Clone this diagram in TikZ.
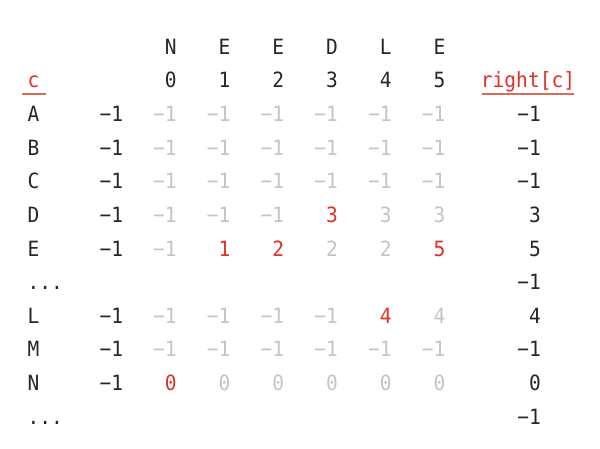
\documentclass[tikz,border=0pt]{standalone}
\usepackage{fontspec}
\setmonofont{DejaVu Sans Mono}[FakeStretch=0.93]

\definecolor{ink}{HTML}{262626}
\definecolor{fade}{HTML}{C4C4C4}
\definecolor{hit}{HTML}{E0302A}
\definecolor{rulered}{HTML}{E06A5A}

\tikzset{
  cell/.style={inner sep=0pt,font=\ttfamily\fontsize{21}{22}\selectfont,text=ink},
  num/.style={cell,anchor=base east},
  key/.style={cell,anchor=base west},
  headrule/.style={draw=rulered,line width=2pt}
}

\begin{document}
\begin{tikzpicture}[x=1pt,y=-1pt]
			\useasboundingbox (0,0) rectangle (600,449);
			% pattern and indices
			\foreach \ch [count=\j from 0] in {N,E,E,D,L,E} {
				\node[num] (p\j) at ({176.8+53.75*\j},54.5) {\ch};
				\node[num] (i\j) at ({176.8+53.75*\j},88) {\j};
			}
			\node[key,text=hit] (hc) at (27.5,88) {c};
			\node[cell,anchor=base,text=hit] (hr) at (528,88) {right[c]};
			\draw[headrule] (22,94.5) -- (46,94.5);
			\draw[headrule] (482,94.5) -- (574,94.5);
			% table rows
			\foreach \ch/\yi/\row/\res in {
				A/2/{fade/−1,fade/−1,fade/−1,fade/−1,fade/−1,fade/−1}/−1,
				B/3/{fade/−1,fade/−1,fade/−1,fade/−1,fade/−1,fade/−1}/−1,
				C/4/{fade/−1,fade/−1,fade/−1,fade/−1,fade/−1,fade/−1}/−1,
				D/5/{fade/−1,fade/−1,fade/−1,hit/3,fade/3,fade/3}/3,
				E/6/{fade/−1,hit/1,hit/2,fade/2,fade/2,hit/5}/5,
				L/8/{fade/−1,fade/−1,fade/−1,fade/−1,hit/4,fade/4}/4,
				M/9/{fade/−1,fade/−1,fade/−1,fade/−1,fade/−1,fade/−1}/−1,
				N/10/{hit/0,fade/0,fade/0,fade/0,fade/0,fade/0}/0} {
				\node[key] (k\ch) at (27.5,{54.5+33.6*\yi}) {\ch};
				\node[num] (s\ch) at (123.3,{54.5+33.6*\yi}) {−1};
				\foreach \col/\v [count=\j from 0] in \row
					\node[num,text=\col] (v\ch\j) at ({176.8+53.75*\j},{54.5+33.6*\yi}) {\v};
				\node[num] (r\ch) at (541,{54.5+33.6*\yi}) {\res};
			}
			% skipped rows
			\foreach \yi [count=\n] in {7,11} {
				\node[key] (dots\n) at (27.5,{54.5+33.6*\yi}) {...};
				\node[num] (rdots\n) at (541,{54.5+33.6*\yi}) {−1};
			}
		\end{tikzpicture}
\end{document}
